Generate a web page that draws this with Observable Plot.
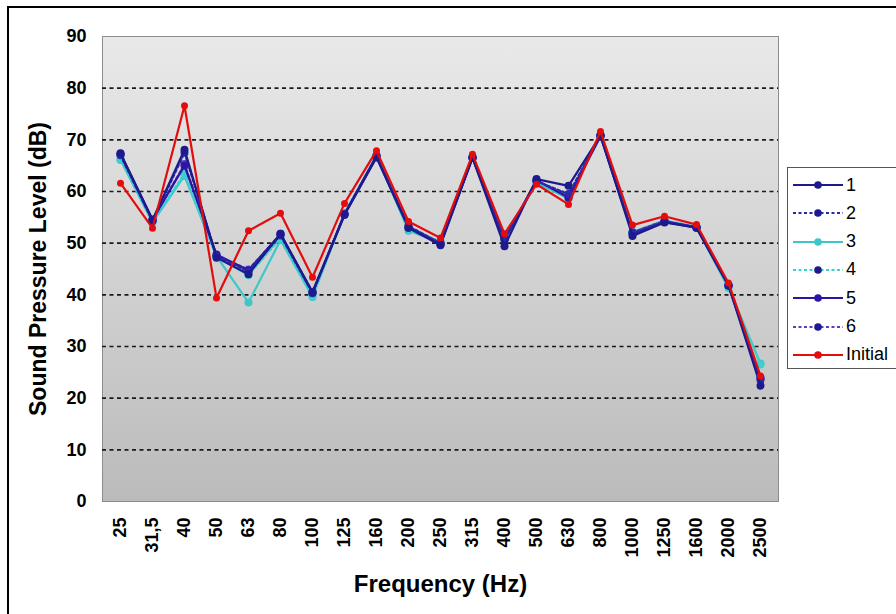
<!DOCTYPE html>
<html>
<head>
<meta charset="utf-8">
<script src="https://cdn.jsdelivr.net/npm/d3@7"></script>
<script src="https://cdn.jsdelivr.net/npm/@observablehq/plot@0.6"></script>
<style>
  html, body { margin: 0; padding: 0; background: #fff; overflow: hidden; }
  #chart { position: relative; width: 896px; height: 614px; font-family: "Liberation Sans", Arial, sans-serif; }
  #chart svg.plot { position: absolute; left: 0; top: 0; }
  #border { position: absolute; left: 7px; top: 6px; width: 1000px; height: 1000px; border: 2px solid #000; pointer-events: none; }
  #legend { position: absolute; left: 787px; top: 167px; width: 140px; height: 200px; border: 1px solid #555; background: #fff; }
  #legend .row { position: absolute; left: 5px; height: 20px; display: flex; align-items: center; font-size: 18px; color: #000; }
  #legend .row span { margin-left: 3px; }
</style>
</head>
<body>
<div id="chart">
  <div id="border"></div>
</div>
<script>
// One-third-octave band centre frequencies (Hz)
const frequencies = ["25", "31,5", "40", "50", "63", "80", "100", "125", "160", "200", "250",
                     "315", "400", "500", "630", "800", "1000", "1250", "1600", "2000", "2500"];

// Sound pressure level (dB) per band for each measurement
const run1 = [67.4, 54.5, 68.1, 47.2, 44.0, 51.8, 40.5, 55.5, 66.7, 53.0, 49.6, 66.5, 49.4, 62.4, 61.1, 70.8, 51.4, 54.0, 53.0, 41.8, 22.4];
const run2 = [67.0, 54.3, 67.5, 47.5, 44.5, 51.5, 40.3, 55.7, 66.9, 53.3, 50.0, 66.7, 50.8, 62.0, 59.5, 70.9, 52.0, 54.2, 53.1, 41.8, 23.5];
const run3 = [66.1, 54.0, 63.0, 47.5, 38.5, 50.6, 39.6, 55.6, 66.8, 52.4, 50.1, 66.6, 50.8, 61.7, 58.6, 70.8, 52.0, 54.2, 53.0, 41.3, 26.7];
const run4 = [66.3, 54.2, 63.5, 47.3, 43.8, 51.0, 39.8, 55.8, 67.0, 52.8, 50.3, 66.8, 51.0, 61.8, 58.8, 71.0, 52.2, 54.4, 53.2, 41.5, 26.5];
const run5 = [67.3, 54.6, 65.0, 47.8, 44.7, 51.8, 40.4, 55.5, 66.6, 53.0, 49.8, 66.5, 50.6, 62.2, 58.8, 70.7, 51.8, 54.1, 53.0, 41.8, 23.8];
const run6 = [67.1, 54.4, 65.3, 47.6, 44.9, 51.7, 40.6, 55.6, 66.9, 53.2, 50.0, 66.6, 50.9, 62.1, 59.0, 70.9, 52.1, 54.3, 53.1, 41.9, 24.0];
const initial = [61.6, 52.9, 76.6, 39.4, 52.4, 55.8, 43.4, 57.7, 67.9, 54.2, 51.0, 67.2, 51.8, 61.4, 57.5, 71.6, 53.5, 55.2, 53.6, 42.3, 24.3];

const yTicks = [0, 10, 20, 30, 40, 50, 60, 70, 80, 90];

// Series styling, listed in legend order
const series = [
  {name: "1", values: run1, color: "#1c1a8c", dash: null},
  {name: "2", values: run2, color: "#2a2aa6", dash: "3,2.5"},
  {name: "3", values: run3, color: "#3cc8c8", dash: null},
  {name: "4", values: run4, color: "#3cd0d0", dash: "3,2.5"},
  {name: "5", values: run5, color: "#2e14a4", dash: null},
  {name: "6", values: run6, color: "#5a3cc8", dash: "3,2.5"},
  {name: "Initial", values: initial, color: "#e30d0d", dash: null}
];

// Drawing order: cyan runs underneath, the initial measurement on top
const drawOrder = ["3", "4", "6", "5", "2", "1", "Initial"];

const rowsFor = s => frequencies.map((f, i) => ({freq: f, spl: s.values[i], series: s.name}));

const seriesMarks = drawOrder.flatMap(name => {
  const s = series.find(d => d.name === name);
  const rows = rowsFor(s);
  return [
    Plot.line(rows, {x: "freq", y: "spl", stroke: s.color, strokeWidth: 2.2, strokeDasharray: s.dash ?? undefined}),
    Plot.dot(rows, {x: "freq", y: "spl", fill: s.color, r: name === "Initial" ? 3.5 : 4})
  ];
});

const chart = Plot.plot({
  width: 896,
  height: 614,
  marginLeft: 102,
  marginRight: 118,
  marginTop: 36,
  marginBottom: 113,
  style: {fontFamily: "'Liberation Sans', Arial, sans-serif", fontSize: "18px", fontWeight: "bold", color: "#000", background: "transparent"},
  x: {type: "point", domain: frequencies, padding: 0.5, tickRotate: -90, tickSize: 0, tickPadding: 16, label: null},
  y: {domain: [0, 90], ticks: yTicks, tickSize: 0, tickPadding: 16, label: null},
  marks: [
    Plot.frame({fill: "url(#plotBg)", stroke: "#8c8c8c"}),
    Plot.ruleY(yTicks.filter(v => v > 0 && v < 90), {stroke: "#1a1a1a", strokeWidth: 1.6, strokeDasharray: "4,3.5"}),
    ...seriesMarks,
    Plot.text(["Frequency (Hz)"], {frameAnchor: "bottom", textAnchor: "middle", dy: 90, fontSize: 24, fontWeight: "bold", fill: "#000"}),
    Plot.text(["Sound Pressure Level (dB)"], {frameAnchor: "left", textAnchor: "middle", dx: -64, rotate: -90, fontSize: 23, fontWeight: "bold", fill: "#000"})
  ]
});

// Vertical grey gradient behind the plotting area
const svg = d3.select(chart);
const grad = svg.insert("defs", ":first-child")
  .append("linearGradient")
  .attr("id", "plotBg")
  .attr("x1", 0).attr("y1", 0).attr("x2", 0).attr("y2", 1);
grad.append("stop").attr("offset", "0%").attr("stop-color", "#e9e9e9");
grad.append("stop").attr("offset", "100%").attr("stop-color", "#bbbbbb");

const container = document.getElementById("chart");
container.insertBefore(chart, container.firstChild);

// Legend box
const legend = d3.select(container).append("div").attr("id", "legend");
series.forEach((s, i) => {
  const row = legend.append("div").attr("class", "row").style("top", `${7 + i * 28.3}px`);
  const sw = row.append("svg").attr("width", 50).attr("height", 12);
  sw.append("line").attr("x1", 0).attr("x2", 50).attr("y1", 6).attr("y2", 6)
    .attr("stroke", s.color).attr("stroke-width", 2)
    .attr("stroke-dasharray", s.dash);
  sw.append("circle").attr("cx", 25).attr("cy", 6).attr("r", 3.8).attr("fill", s.dash ? "#1c1a8c" : s.color);
  row.append("span").text(s.name);
});
</script>
</body>
</html>
